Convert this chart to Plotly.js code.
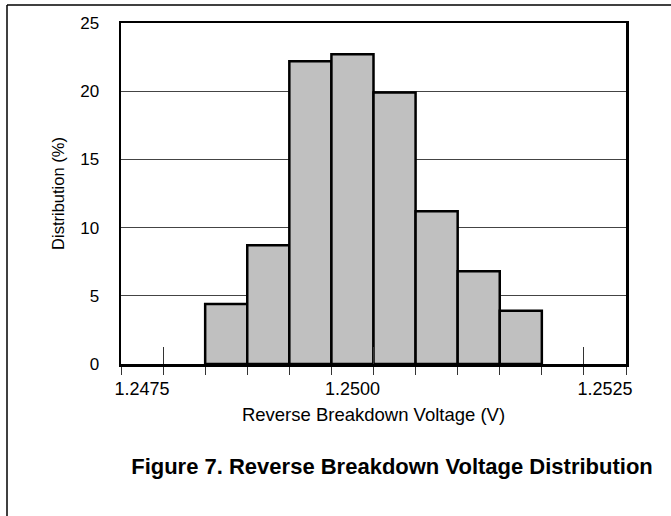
<!DOCTYPE html>
<html>
<head>
<meta charset="utf-8">
<script src="https://cdn.plot.ly/plotly-3.0.1.min.js"></script>
<style>html,body{margin:0;padding:0;background:#fff;}#chart{width:671px;height:516px;}</style>
</head>
<body>
<div id="chart"></div>
<script>
// Data
const binCenters = [1.24825, 1.24875, 1.24925, 1.24975, 1.25025, 1.25075, 1.25125, 1.25175];
const distribution = [4.4, 8.7, 22.2, 22.7, 19.9, 11.2, 6.8, 3.9];
const binWidth = 0.0005;
const xRange = [1.2470, 1.2530];
const xTickMarks = [1.2475, 1.2500, 1.2525];
const xLabelPositions = [1.24725, 1.24975, 1.25275];
const xTickText = ['1.2475', '1.2500', '1.2525'];
const yTickVals = [0, 5, 10, 15, 20, 25];

const FONT = 'Liberation Sans, Arial, Helvetica, sans-serif';

const trace = {
  type: 'bar',
  x: binCenters,
  y: distribution,
  width: binCenters.map(() => binWidth),
  marker: { color: '#c0c0c0', line: { color: '#000', width: 2.5 } },
  hoverinfo: 'x+y',
  xaxis: 'x', yaxis: 'y'
};
const ghost = {
  type: 'scatter', x: [], y: [], xaxis: 'x2', yaxis: 'y', showlegend: false, hoverinfo: 'skip'
};

const L = 121, R = 626, T = 23, B = 364;
const px = p => (p - L) / (R - L);
const py = p => (B - p) / (B - T);

const layout = {
  width: 671, height: 516,
  margin: { l: L, r: 671 - R, t: T, b: 516 - B },
  paper_bgcolor: '#fff', plot_bgcolor: '#fff',
  showlegend: false,
  font: { family: FONT, color: '#000', size: 16 },
  bargap: 0,
  title: {
    text: 'Figure 7. Reverse Breakdown Voltage Distribution',
    font: { family: FONT, size: 22, weight: 'bold', color: '#000' },
    x: 392 / 671, xanchor: 'center', xref: 'container',
    y: 1 - 466 / 516, yanchor: 'middle', yref: 'container'
  },
  xaxis: {
    range: xRange,
    tickmode: 'array', tickvals: xLabelPositions, ticktext: xTickText,
    ticks: '', ticklabelstandoff: 7,
    tickfont: { size: 18 },
    minor: { tickmode: 'linear', tick0: xRange[0], dtick: binWidth, ticks: 'outside', ticklen: 8, tickwidth: 1, tickcolor: '#333', showgrid: false },
    showgrid: false, zeroline: false,
    showline: true, mirror: true, linecolor: '#000', linewidth: 2.5,
    title: { text: 'Reverse Breakdown Voltage (V)', font: { size: 18.5 }, standoff: 10 },
    fixedrange: true
  },
  xaxis2: {
    overlaying: 'x', matches: 'x', range: xRange,
    tickmode: 'array', tickvals: xTickMarks,
    ticks: 'inside', ticklen: 17, tickwidth: 1, tickcolor: '#333',
    showticklabels: false, showgrid: false, zeroline: false, showline: false,
    side: 'bottom', anchor: 'y'
  },
  yaxis: {
    range: [0, 25],
    tickmode: 'array', tickvals: yTickVals,
    ticks: '', ticklabelstandoff: 16,
    tickfont: { size: 17 },
    showgrid: true, gridcolor: '#444', gridwidth: 1,
    zeroline: false,
    showline: true, mirror: true, linecolor: '#000', linewidth: 2.5,
    title: { text: 'Distribution (%)', font: { size: 16.5 }, standoff: 12 },
    fixedrange: true
  },
  shapes: [
    { type: 'line', xref: 'paper', yref: 'paper', x0: px(7), x1: px(671), y0: py(5), y1: py(5), line: { color: '#000', width: 1.5 } },
    { type: 'line', xref: 'paper', yref: 'paper', x0: px(7), x1: px(7), y0: py(5), y1: py(516), line: { color: '#000', width: 1.5 } }
  ]
};

Plotly.newPlot('chart', [trace, ghost], layout, { displayModeBar: false, staticPlot: true });
</script>
</body>
</html>
